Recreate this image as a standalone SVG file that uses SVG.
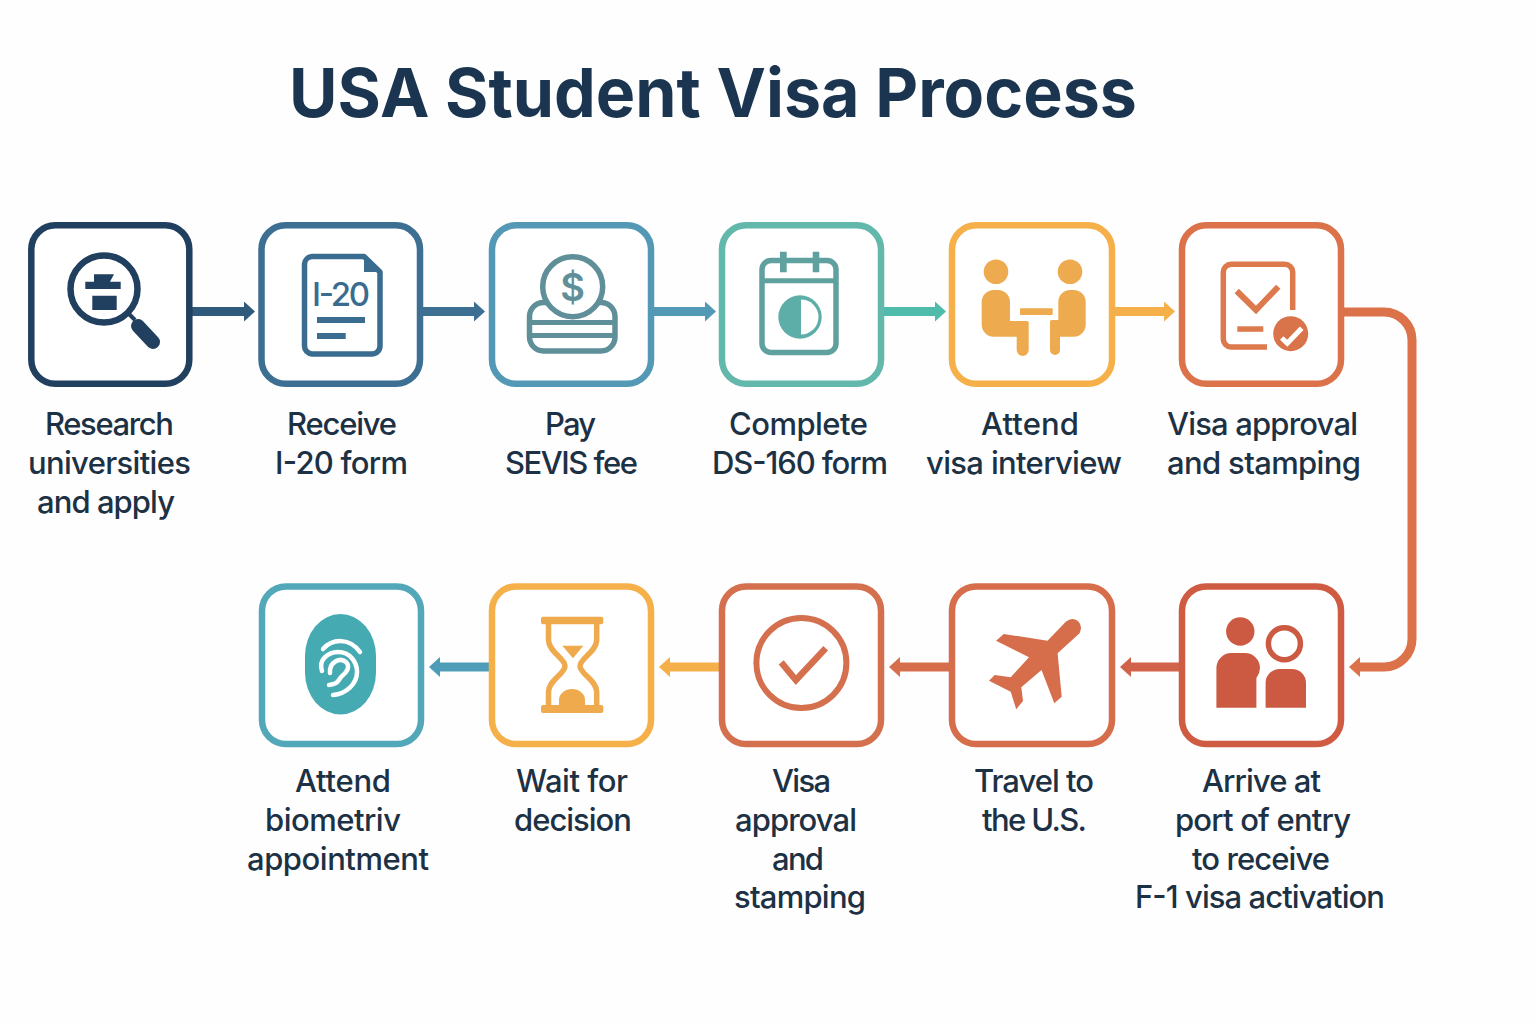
<svg xmlns="http://www.w3.org/2000/svg" width="1536" height="1024" viewBox="0 0 1536 1024">
<style>
text{font-family:"Inter","Noto Sans","Liberation Sans",sans-serif}
.title{font-size:68px;font-weight:700;fill:#1b3550}
.lb{font-size:31px;font-weight:500;fill:#1d3145}
.box{fill:#fff;stroke-width:6.5}
.c{fill:none;stroke-width:9}
.o{fill:none;stroke-width:5.5}
</style>
<defs>
<marker id="m1" markerUnits="userSpaceOnUse" markerWidth="11" markerHeight="20" refX="0" refY="10" orient="auto"><path d="M0 0L11 10L0 20Z" fill="#2f5a7c"/></marker>
<marker id="m2" markerUnits="userSpaceOnUse" markerWidth="11" markerHeight="20" refX="0" refY="10" orient="auto"><path d="M0 0L11 10L0 20Z" fill="#3d6f93"/></marker>
<marker id="m3" markerUnits="userSpaceOnUse" markerWidth="11" markerHeight="20" refX="0" refY="10" orient="auto"><path d="M0 0L11 10L0 20Z" fill="#5399b5"/></marker>
<marker id="m4" markerUnits="userSpaceOnUse" markerWidth="11" markerHeight="20" refX="0" refY="10" orient="auto"><path d="M0 0L11 10L0 20Z" fill="#4fbbab"/></marker>
<marker id="m5" markerUnits="userSpaceOnUse" markerWidth="11" markerHeight="20" refX="0" refY="10" orient="auto"><path d="M0 0L11 10L0 20Z" fill="#f5b04a"/></marker>
<marker id="m6" markerUnits="userSpaceOnUse" markerWidth="11" markerHeight="20" refX="0" refY="10" orient="auto"><path d="M0 0L11 10L0 20Z" fill="#dc7249"/></marker>
<marker id="m7" markerUnits="userSpaceOnUse" markerWidth="11" markerHeight="20" refX="0" refY="10" orient="auto"><path d="M0 0L11 10L0 20Z" fill="#d1634a"/></marker>
<marker id="m8" markerUnits="userSpaceOnUse" markerWidth="11" markerHeight="20" refX="0" refY="10" orient="auto"><path d="M0 0L11 10L0 20Z" fill="#d66e4c"/></marker>
<marker id="m9" markerUnits="userSpaceOnUse" markerWidth="11" markerHeight="20" refX="0" refY="10" orient="auto"><path d="M0 0L11 10L0 20Z" fill="#4e9db8"/></marker>
</defs>
<rect width="1536" height="1024" fill="#fefefe"/>
<text class="title" x="289" y="117" textLength="848" lengthAdjust="spacingAndGlyphs">USA Student Visa Process</text>

<g id="connectors">
<path class="c" stroke="#2f5a7c" marker-end="url(#m1)" d="M192 311.5H244"/>
<path class="c" stroke="#3d6f93" marker-end="url(#m2)" d="M423 311.5H474"/>
<path class="c" stroke="#5399b5" marker-end="url(#m3)" d="M654 311.5H705"/>
<path class="c" stroke="#4fbbab" marker-end="url(#m4)" d="M884 311.5H935"/>
<path class="c" stroke="#f5b04a" marker-end="url(#m5)" d="M1115 311.5H1164"/>
<path class="c" stroke="#dc7249" marker-end="url(#m6)" d="M1344 312H1384A28 28 0 0 1 1412 340V639A28 28 0 0 1 1384 667H1360"/>
<path class="c" stroke="#d1634a" marker-end="url(#m7)" d="M1179 667H1131"/>
<path class="c" stroke="#d66e4c" marker-end="url(#m8)" d="M949 667H900"/>
<path class="c" stroke="#f5b04a" marker-end="url(#m5)" d="M719 667H670"/>
<path class="c" stroke="#4e9db8" marker-end="url(#m9)" d="M489 667H440"/>
</g>

<g id="n1">
<rect class="box" stroke="#213f5e" x="31.3" y="225.3" width="158" height="158.5" rx="24"/>
<circle cx="104" cy="289" r="33.5" fill="none" stroke="#213f5e" stroke-width="6.5"/>
<path fill="#213f5e" d="M94 274.3H114L110 281.7H120.7V289H85.3V281.7H94ZM92.3 295.7H116.7V310H92.3Z"/>
<path fill="none" stroke="#213f5e" stroke-width="4" d="M127 312L135 320"/>
<path fill="none" stroke="#213f5e" stroke-width="14" stroke-linecap="round" d="M138 326L153 342" stroke-linejoin="round"/>
<text class="lb" x="45" y="435" textLength="129">Research</text>
<text class="lb" x="28" y="474" textLength="163">universities</text>
<text class="lb" x="37" y="513" textLength="138">and apply</text>
</g>

<g id="n2">
<rect class="box" stroke="#3d6f93" x="261.5" y="225.3" width="158.5" height="158.5" rx="24"/>
<path class="o" stroke="#3a6c90" stroke-linejoin="round" d="M312 256.5H364L380 272V346A8 8 0 0 1 372 354H312A8 8 0 0 1 304.5 346V264A8 8 0 0 1 312 256.5Z"/>
<path fill="#3a6c90" d="M364 257L380 272H364Z"/>
<text x="312" y="306" font-size="33" font-weight="500" fill="#3a6c90" textLength="58">I-20</text>
<path fill="#3a6c90" d="M317 317H365V323H317ZM317 333H345.7V339H317Z"/>
<text class="lb" x="287" y="435" textLength="110">Receive</text>
<text class="lb" x="275" y="474" textLength="133">I-20 form</text>
</g>

<g id="n3">
<rect class="box" stroke="#5399b5" x="492" y="225.3" width="159" height="158.5" rx="24"/>
<rect class="o" stroke="#5f8f98" x="529.5" y="302.5" width="85.5" height="48.5" rx="14"/>
<path fill="none" stroke="#5f8f98" stroke-width="5" d="M530 322.5H615M530 335.5H615"/>
<circle cx="572.7" cy="286.7" r="30" fill="#fff" stroke="#5f8f98" stroke-width="5.5"/>
<text x="572.7" y="301" font-size="38" font-weight="600" fill="#5f8f98" text-anchor="middle">$</text>
<text class="lb" x="545" y="435" textLength="51">Pay</text>
<text class="lb" x="505" y="474" textLength="133">SEVIS fee</text>
</g>

<g id="n4">
<rect class="box" stroke="#62b8aa" x="722" y="225.3" width="159" height="158.5" rx="24"/>
<rect class="o" stroke="#5fa19e" x="762" y="260.5" width="74" height="92" rx="9"/>
<path fill="none" stroke="#5fa19e" stroke-width="5" d="M762 280.7H836"/>
<path fill="#5fa19e" d="M780 251.7H786.7V272.3H780ZM812.7 251.7H819.3V272.3H812.7Z"/>
<circle cx="800" cy="317" r="21.7" fill="#5dada9"/>
<path fill="#fff" d="M801 299.5A17.5 17.5 0 0 1 801 334.5Z"/>
<text class="lb" x="729" y="435" textLength="139">Complete</text>
<text class="lb" x="712" y="474" textLength="176">DS-160 form</text>
</g>

<g id="n5">
<rect class="box" stroke="#f5b04a" x="952" y="225.3" width="160" height="158.5" rx="24"/>
<g fill="#eeaa4f">
<circle cx="996" cy="271.7" r="12.3"/>
<circle cx="1070" cy="271.7" r="12.3"/>
<path d="M981.7 302A12 12 0 0 1 993.7 290H998A12 12 0 0 1 1010 302V321H1027A1.7 1.7 0 0 1 1028.7 322.7V350A6 6 0 0 1 1016.7 350V336.7H993.7A12 12 0 0 1 981.7 324.7Z"/>
<path d="M1085.7 302A12 12 0 0 0 1073.7 290H1070A12 12 0 0 0 1058.3 302V320H1051.7A1.7 1.7 0 0 0 1050 321.7V350A5 5 0 0 0 1060 350V336.7H1073.7A12 12 0 0 0 1085.7 324.7Z"/>
<rect x="1020" y="308.3" width="32.7" height="6.7" rx="1"/>
</g>
<text class="lb" x="981" y="435" textLength="98">Attend</text>
<text class="lb" x="926" y="474" textLength="196">visa interview</text>
</g>

<g id="n6">
<rect class="box" stroke="#dc7249" x="1182" y="225.3" width="159" height="158.5" rx="24"/>
<path class="o" stroke="#dc7a4e" d="M1292.7 310V272A8 8 0 0 0 1284.7 264.3H1231A8 8 0 0 0 1223.3 272V339A8 8 0 0 0 1231 347H1267"/>
<path fill="none" stroke="#dc7a4e" stroke-width="6" d="M1236.7 291L1256 310L1278.3 286.7"/>
<rect x="1237.3" y="326.3" width="26" height="5.5" fill="#dc7a4e"/>
<circle cx="1290.7" cy="333.7" r="17.5" fill="#d9744a"/>
<path fill="none" stroke="#fff" stroke-width="5" d="M1281.7 338L1287.3 343.3L1301.7 328.3"/>
<text class="lb" x="1167" y="435" textLength="191">Visa approval</text>
<text class="lb" x="1167" y="474" textLength="194">and stamping</text>
</g>

<g id="n7">
<rect class="box" stroke="#cf5c42" x="1182" y="586.5" width="159" height="157.5" rx="24"/>
<g fill="#cc5a42">
<circle cx="1240.3" cy="631.5" r="14.2"/>
<path d="M1216.4 707.7V668A15 15 0 0 1 1231.4 653H1245A15 15 0 0 1 1260 668Q1260 673 1256.4 678V707.7Z"/>
<path d="M1265.6 707.7V683A14 14 0 0 1 1279.6 669H1292A14 14 0 0 1 1306 683V707.7Z"/>
</g>
<circle cx="1284.4" cy="643.7" r="16" fill="none" stroke="#cc5a42" stroke-width="5.5"/>
<text class="lb" x="1202" y="792" textLength="119">Arrive at</text>
<text class="lb" x="1175" y="831" textLength="176">port of entry</text>
<text class="lb" x="1192" y="870" textLength="138">to receive</text>
<text class="lb" x="1135" y="908" textLength="250">F-1 visa activation</text>
</g>

<g id="n8">
<rect class="box" stroke="#d66e4c" x="952" y="586.5" width="160" height="157.5" rx="24"/>
<path fill="#d66e4c" d="M1065.8 621.7L1047.5 640.7L1003.8 634L996 640.7L1029 657.3L1010.7 677.3L994.7 675L989 680.7L1010.7 691.7L1016.2 709.3L1023 701L1021.3 687.3L1041.5 670L1054.3 703.3L1061.7 696.7L1057.6 653.3L1079.6 633.3Q1083 626 1078 621Q1072 616.5 1065.8 621.7Z"/>
<text class="lb" x="974" y="792" textLength="120">Travel to</text>
<text class="lb" x="982" y="831" textLength="105">the U.S.</text>
</g>

<g id="n9">
<rect class="box" stroke="#d5704e" x="722" y="586.5" width="159" height="157.5" rx="24"/>
<circle cx="801.4" cy="663" r="45" fill="none" stroke="#d5704e" stroke-width="6"/>
<path fill="none" stroke="#d5704e" stroke-width="6.5" d="M781.2 662.3L795.9 680L825.7 648.3"/>
<text class="lb" x="772" y="792" textLength="59">Visa</text>
<text class="lb" x="735" y="831" textLength="122">approval</text>
<text class="lb" x="772" y="870" textLength="52">and</text>
<text class="lb" x="734" y="908" textLength="132">stamping</text>
</g>

<g id="n10">
<rect class="box" stroke="#f5b04a" x="492" y="586.5" width="159" height="157.5" rx="24"/>
<g fill="#efaa4e">
<rect x="541" y="616.7" width="62.3" height="7.6" rx="2"/>
<rect x="541" y="705" width="62.3" height="8" rx="2"/>
<path d="M562.3 645.7H583.3L573 658.3ZM559 705V700A13 11 0 0 1 585 700V705Z"/>
</g>
<path class="o" stroke="#efaa4e" d="M548.5 624V640C548.5 652 565 658 565 666C565 674 548.5 680 548.5 692V705M596.7 624V640C596.7 652 580 658 580 666C580 674 596.7 680 596.7 692V705"/>
<text class="lb" x="516" y="792" textLength="112">Wait for</text>
<text class="lb" x="514" y="831" textLength="118">decision</text>
</g>

<g id="n11">
<rect class="box" stroke="#52a8b8" x="262" y="586.5" width="159" height="157.5" rx="24"/>
<rect x="305" y="614" width="71" height="100.5" rx="35.5" ry="42" fill="#45aab2"/>
<g fill="none" stroke="#fff" stroke-width="4.5" stroke-linecap="round">
<path d="M323 649C333 638 350 638 360 652"/>
<path d="M322 671C318 660 328 652 338 652C350 652 357 662 357 672C357 684 346 694 333 695"/>
<path d="M330 673C329 662 340 657 346 662C351 667 346 673 342 676C338 680 339 684 329 685"/>
</g>
<text class="lb" x="295" y="792" textLength="96">Attend</text>
<text class="lb" x="265" y="831" textLength="136">biometriv</text>
<text class="lb" x="247" y="870" textLength="182">appointment</text>
</g>
</svg>
